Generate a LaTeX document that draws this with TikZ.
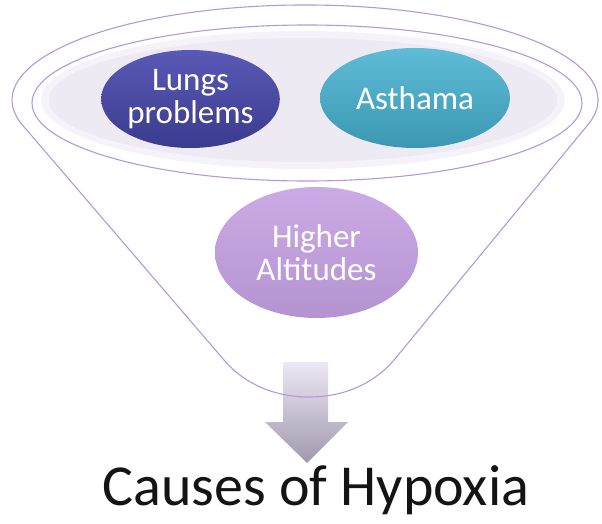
\documentclass[tikz,border=0pt]{standalone}
\usepackage{fontspec}
\setmainfont{Carlito}
\usetikzlibrary{shapes.geometric}

\definecolor{rimline}{RGB}{180,152,220}
\definecolor{bowlfill}{RGB}{237,234,244}
\definecolor{bowledge}{RGB}{245,243,249}
\definecolor{lungtop}{RGB}{90,90,182}
\definecolor{lungbot}{RGB}{58,58,142}
\definecolor{asthtop}{RGB}{95,188,214}
\definecolor{asthbot}{RGB}{60,152,178}
\definecolor{alttop}{RGB}{203,170,230}
\definecolor{altbot}{RGB}{180,148,208}
\definecolor{arrowtop}{RGB}{236,232,244}
\definecolor{arrowbot}{RGB}{162,152,174}

\tikzset{
  cause/.style={ellipse, inner sep=0pt, text=white, align=center,
    font=\fontsize{33}{33}\selectfont},
  rim/.style={draw=rimline, line width=1.1pt}
}

\begin{document}
\begin{tikzpicture}[x=1pt,y=1pt]
\useasboundingbox (0,0) rectangle (602,523);

% downward arrow under the funnel
\shade[top color=arrowtop, bottom color=arrowbot]
  (283,161) -- (328,161) -- (328,101) -- (348,101) -- (307,60)
  -- (265,101) -- (283,101) -- cycle;

% funnel outline: top of the rim and the two sides
\draw[rim] (224,163) -- (23,397.3)
  arc[start angle=195.7, end angle=-15.7, x radius=293, y radius=95]
  -- (394,163) .. controls (378,144) and (350,126) .. (309,126)
  .. controls (268,126) and (240,144) .. (224,163) -- cycle;

% inner rim and the pale bowl
\draw[rim] (307,420) ellipse[x radius=275, y radius=78];
\fill[bowledge] (303,423) ellipse[x radius=262, y radius=69];
\fill[bowlfill] (303,423) ellipse[x radius=254, y radius=62];

% causes
\node[cause, minimum width=175, minimum height=98,
  top color=lungtop, bottom color=lungbot] (lungs) at (190.5,424) {Lungs\\problems};
\node[cause, minimum width=190, minimum height=100,
  top color=asthtop, bottom color=asthbot] (asthma) at (415,425) {Asthama};
\node[cause, minimum width=203, minimum height=131,
  top color=alttop, bottom color=altbot] (altitude) at (316.5,270.5) {Higher\\Altitudes};

% caption
\node[anchor=base, text={rgb,255:red,20;green,20;blue,20},
  font=\fontsize{58}{58}\selectfont] (title) at (316,18) {Causes of Hypoxia};
\end{tikzpicture}
\end{document}
